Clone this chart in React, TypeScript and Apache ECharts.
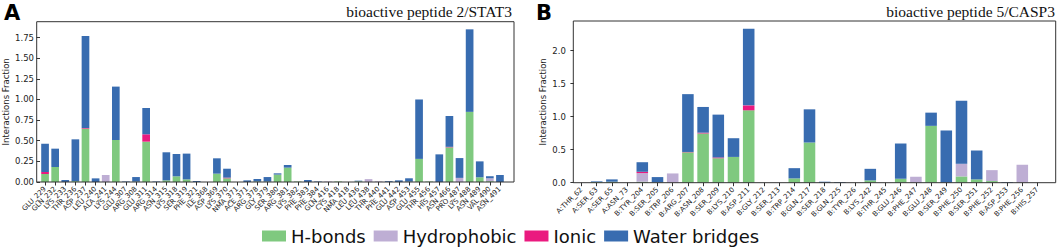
import React, { useEffect, useRef } from "react";
import * as echarts from "echarts";

const categoriesA = [
  "GLU_229", "GLN_232", "LYS_233", "THR_236", "ASP_237", "LEU_240", "ALA_241", "LYS_244",
  "GLU_307", "ARG_308", "GLU_311", "ARG_314", "ASN_315", "LYS_318", "SER_319", "PHE_321",
  "ILE_368", "ASP_369", "LYS_370", "NMA_371", "ACE_371", "ARG_378", "GLY_379", "SER_380",
  "ARG_381", "LYS_382", "PHE_383", "PHE_384", "GLN_416", "CYS_418", "NMA_418", "LEU_436",
  "LEU_438", "THR_440", "PHE_441", "GLU_442", "ASP_453", "GLU_455", "THR_456", "HIS_457",
  "ASN_466", "PRO_487", "LYS_488", "ASN_489", "VAL_490", "ASN_491",
];
const hbondsA = [
  0.097, 0.182, 0, 0.01, 0.647, 0, 0, 0.509, 0, 0.005, 0.489, 0, 0.02, 0.069, 0.032, 0,
  0, 0.101, 0.045, 0, 0, 0.005, 0.005, 0.09, 0.174, 0.006, 0, 0, 0, 0.006, 0, 0.008,
  0, 0, 0, 0, 0.005, 0.28, 0.006, 0, 0.42, 0, 0.85, 0.057, 0.01, 0,
];
const hydrophobicA = [
  0, 0, 0, 0, 0, 0, 0.085, 0, 0, 0, 0, 0, 0, 0, 0, 0,
  0, 0, 0, 0, 0, 0, 0, 0, 0, 0, 0, 0, 0.006, 0, 0, 0,
  0.035, 0.008, 0, 0, 0, 0, 0, 0, 0, 0.05, 0, 0, 0.035, 0,
];
const ionicA = [
  0.024, 0, 0, 0, 0.008, 0, 0, 0, 0, 0, 0.089, 0, 0, 0, 0, 0,
  0, 0, 0.008, 0, 0, 0, 0, 0, 0, 0, 0, 0, 0, 0, 0, 0,
  0, 0, 0, 0, 0, 0, 0, 0, 0.006, 0, 0, 0, 0, 0,
];
const waterA = [
  0.344, 0.222, 0.024, 0.507, 1.115, 0.044, 0, 0.647, 0.006, 0.055, 0.319, 0.006, 0.34, 0.27, 0.312, 0.012,
  0, 0.186, 0.108, 0, 0.02, 0.031, 0.055, 0.015, 0.032, 0, 0.024, 0.006, 0, 0, 0, 0.008,
  0, 0, 0.01, 0.02, 0.04, 0.72, 0, 0.335, 0.374, 0.24, 1.0, 0.193, 0.025, 0.085,
];

const categoriesB = [
  "A:THR_62", "A:SER_63", "A:SER_65", "A:ASN_73", "B:TYR_204", "B:SER_205", "B:TRP_206", "B:ARG_207",
  "B:ASN_208", "B:SER_209", "B:LYS_210", "B:ASP_211", "B:GLY_212", "B:SER_213", "B:TRP_214", "B:GLN_217",
  "B:SER_218", "B:GLN_225", "B:TYR_226", "B:LYS_242", "B:THR_245", "B:GLU_246", "B:PHE_247", "B:GLU_248",
  "B:SER_249", "B:PHE_250", "B:SER_251", "B:PHE_252", "B:ASP_253", "B:PHE_256", "B:HIS_257",
];
const hbondsB = [
  0, 0.01, 0.015, 0, 0.015, 0.005, 0, 0.46, 0.745, 0.37, 0.39, 1.095, 0, 0, 0.065, 0.608,
  0, 0, 0, 0.035, 0, 0.06, 0, 0.86, 0, 0.095, 0.05, 0.025, 0, 0, 0,
];
const hydrophobicB = [
  0, 0, 0, 0, 0.13, 0, 0.14, 0, 0, 0, 0, 0, 0, 0, 0, 0,
  0, 0, 0, 0, 0, 0, 0.09, 0, 0, 0.191, 0, 0.165, 0, 0.27, 0,
];
const ionicB = [
  0, 0, 0, 0, 0.02, 0, 0, 0.005, 0.012, 0.012, 0, 0.075, 0, 0, 0, 0,
  0, 0, 0, 0, 0, 0, 0, 0, 0, 0, 0, 0, 0, 0, 0,
];
const waterB = [
  0, 0.01, 0.035, 0, 0.145, 0.08, 0, 0.875, 0.389, 0.648, 0.283, 1.16, 0, 0, 0.155, 0.502,
  0.015, 0.01, 0, 0.175, 0, 0.533, 0, 0.2, 0.79, 0.954, 0.437, 0, 0.01, 0, 0,
];

const ticksA = [0, 0.25, 0.5, 0.75, 1.0, 1.25, 1.5, 1.75];
const ticksB = [0, 0.5, 1.0, 1.5, 2.0];
const seriesNames = ["H-bonds", "Hydrophobic", "Ionic", "Water bridges"];
const colors = ["#7fc97f", "#beaed4", "#ea1a7f", "#386cb0"];

const FONT = "DejaVu Sans";

function maxTotal(arrs: number[][]) {
  let m = 0;
  for (let i = 0; i < arrs[0].length; i++) {
    let s = 0;
    for (const a of arrs) s += a[i];
    if (s > m) m = s;
  }
  return m;
}

export default function App() {
  const ref = useRef<HTMLDivElement>(null);
  useEffect(() => {
    if (!ref.current) return;
    const chart = echarts.init(ref.current, undefined, { renderer: "svg" });
    const dataA = [hbondsA, hydrophobicA, ionicA, waterA];
    const dataB = [hbondsB, hydrophobicB, ionicB, waterB];
    const maxA = maxTotal(dataA) * 1.05;
    const maxB = maxTotal(dataB) * 1.05;

    const xAxisCommon = (data: string[], gridIndex: number) => ({
      type: "category",
      gridIndex,
      data,
      axisLine: { show: false },
      axisTick: { show: true, alignWithLabel: true, interval: 0, length: 3.5, lineStyle: { color: "#000", width: 0.8 } },
      axisLabel: { interval: 0, rotate: 45, fontSize: 7, color: "#222", fontFamily: FONT, margin: 6 },
      splitLine: { show: false },
    });
    const yAxisCommon = (gridIndex: number, max: number, ticks: number[], digits: number, nameGap: number, labelMargin: number) => ({
      type: "value",
      gridIndex,
      min: 0,
      max,
      name: "Interactions Fraction",
      nameLocation: "middle",
      nameGap,
      nameTextStyle: { fontSize: 8.5, fontFamily: FONT, color: "#222" },
      axisLine: { show: false },
      axisTick: { show: true, length: 3.5, customValues: ticks, lineStyle: { color: "#000", width: 0.8 } },
      axisLabel: {
        customValues: ticks,
        fontSize: 8.5,
        fontFamily: FONT,
        color: "#222",
        margin: labelMargin,
        formatter: (v: number) => v.toFixed(digits),
      },
      splitLine: { show: false },
    });

    const mkSeries = (data: number[][], xi: number, stack: string) =>
      data.map((d, i) => ({
        name: seriesNames[i],
        type: "bar",
        xAxisIndex: xi,
        yAxisIndex: xi,
        stack,
        data: d,
        barCategoryGap: "24%",
        itemStyle: { color: colors[i] },
      }));

    chart.setOption({
      animation: false,
      grid: [
        { left: 37.6, right: 1059 - 505, top: 21.7, bottom: 69, containLabel: false },
        { left: 573.9, right: 1059 - 1045.1, top: 21, bottom: 68.3, containLabel: false },
      ],
      xAxis: [xAxisCommon(categoriesA, 0), xAxisCommon(categoriesB, 1)],
      yAxis: [yAxisCommon(0, maxA, ticksA, 2, 30, 6), yAxisCommon(1, maxB, ticksB, 1, 26, 8)],
      legend: {
        data: seriesNames,
        left: 257,
        top: 222,
        itemWidth: 24,
        itemHeight: 11,
        itemGap: 8,
        icon: "rect",
        textStyle: { fontSize: 18, fontFamily: FONT, color: "#111" },
      },
      graphic: [
        { type: "rect", z: 100, shape: { x: 36.7, y: 21.7, width: 477.3, height: 160.3 }, style: { fill: "none", stroke: "#333", lineWidth: 1 } },
        { type: "rect", z: 100, shape: { x: 573.3, y: 21, width: 482.4, height: 161.7 }, style: { fill: "none", stroke: "#333", lineWidth: 1 } },
        { type: "text", x: 4, y: 2, style: { text: "A", fontSize: 21, fontWeight: "bold", fontFamily: FONT, fill: "#000" } },
        { type: "text", x: 536, y: 2, style: { text: "B", fontSize: 21, fontWeight: "bold", fontFamily: FONT, fill: "#000" } },
        { type: "text", x: 512, y: 19, style: { text: "bioactive peptide 2/STAT3", fontSize: 15.5, fontFamily: "Liberation Serif", fill: "#111", align: "right", verticalAlign: "bottom" } },
        { type: "text", x: 1055, y: 19, style: { text: "bioactive peptide 5/CASP3", fontSize: 15.5, fontFamily: "Liberation Serif", fill: "#111", align: "right", verticalAlign: "bottom" } },
      ],
      series: [...mkSeries(dataA, 0, "a"), ...mkSeries(dataB, 1, "b")],
    });
    return () => chart.dispose();
  }, []);
  return <div ref={ref} style={{ position: "absolute", left: 0, top: 0, width: 1059, height: 251 }} />;
}
